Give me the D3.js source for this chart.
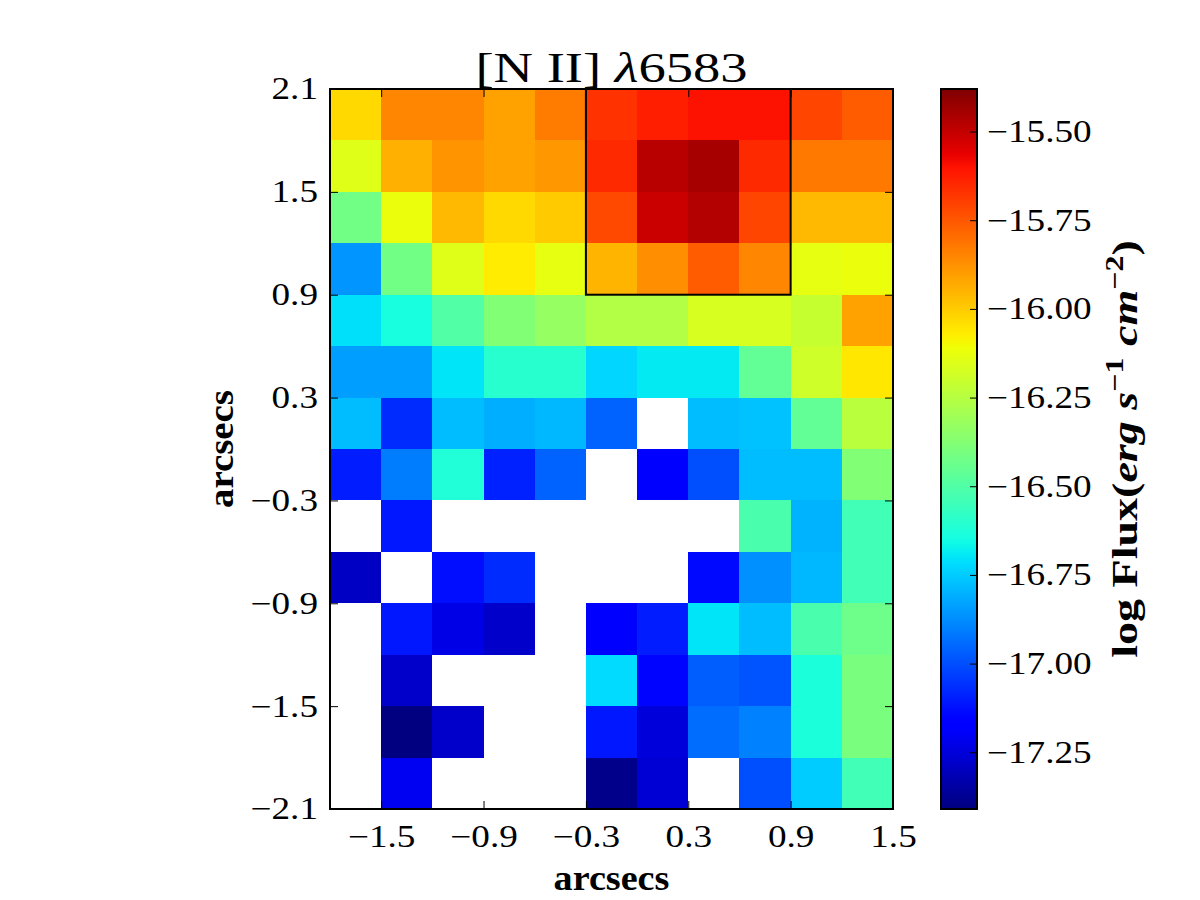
<!DOCTYPE html>
<html>
<head>
<meta charset="utf-8">
<script src="https://cdn.jsdelivr.net/npm/d3@7"></script>
<style>
  html, body { margin: 0; padding: 0; background: #fff; }
  svg { display: block; }
  text { font-family: "Liberation Serif", "DejaVu Serif", serif; fill: #000; }
</style>
</head>
<body>
<svg id="chart" width="1200" height="900"></svg>
<script>
// ---------------- data ----------------
const title = "[N II] ";
const titleLambda = "\u03BB";
const titleWave = "6583";
const xLabel = "arcsecs";
const yLabel = "arcsecs";

// column centres (arcsec) and row centres (arcsec, top to bottom)
const xCenters = [-1.65, -1.35, -1.05, -0.75, -0.45, -0.15, 0.15, 0.45, 0.75, 1.05, 1.35];
const yCenters = [1.95, 1.65, 1.35, 1.05, 0.75, 0.45, 0.15, -0.15, -0.45, -0.75, -1.05, -1.35, -1.65, -1.95];
const cellSize = 0.3;

// log flux per cell, rows top -> bottom, null = no data
const flux = [
  [-16.03, -15.85, -15.85, -15.91, -15.83, -15.67, -15.63, -15.60, -15.60, -15.71, -15.76],
  [-16.15, -15.94, -15.88, -15.91, -15.89, -15.65, -15.48, -15.45, -15.65, -15.82, -15.82],
  [-16.42, -16.12, -15.96, -16.03, -16.00, -15.72, -15.51, -15.47, -15.71, -15.96, -15.96],
  [-16.86, -16.42, -16.15, -16.07, -16.13, -15.95, -15.87, -15.76, -15.85, -16.13, -16.12],
  [-16.71, -16.64, -16.50, -16.38, -16.33, -16.26, -16.26, -16.17, -16.17, -16.21, -15.91],
  [-16.84, -16.84, -16.70, -16.60, -16.60, -16.73, -16.69, -16.69, -16.46, -16.19, -16.06],
  [-16.78, -17.07, -16.78, -16.81, -16.79, -16.96, null,   -16.78, -16.77, -16.46, -16.24],
  [-17.10, -16.91, -16.62, -17.09, -16.96, null,   -17.18, -17.00, -16.78, -16.78, -16.38],
  [null,   -17.11, null,   null,   null,   null,   null,   null,   -16.52, -16.80, -16.54],
  [-17.29, null,   -17.13, -17.07, null,   null,   null,   -17.14, -16.87, -16.79, -16.54],
  [null,   -17.11, -17.23, -17.28, null,   -17.17, -17.10, -16.70, -16.78, -16.52, -16.43],
  [null,   -17.28, null,   null,   null,   -16.72, -17.15, -16.97, -16.99, -16.63, -16.40],
  [null,   -17.41, -17.28, null,   null,   -17.11, -17.25, -16.94, -16.90, -16.63, -16.40],
  [null,   -17.21, null,   null,   null,   -17.39, -17.26, null,   -17.00, -16.75, -16.54]
];

const xDomain = [-1.8, 1.5];
const yDomain = [-2.1, 2.1];
const xTicks = [-1.5, -0.9, -0.3, 0.3, 0.9, 1.5];
const yTicks = [-2.1, -1.5, -0.9, -0.3, 0.3, 0.9, 1.5, 2.1];
const fluxRange = [-17.41, -15.38];
const cbarTicks = [-17.25, -17.00, -16.75, -16.50, -16.25, -16.00, -15.75, -15.50];

// highlighted box (arcsec)
const boxX = [-0.3, 0.9];
const boxY = [0.9, 2.1];

// ---------------- layout ----------------
const P = { left: 330, right: 893, top: 89, bottom: 809 };
const CB = { left: 941, right: 977, top: 89, bottom: 809 };
const TICK_FS = 31, TICK_SX = 1.2;

const svg = d3.select("#chart");

const x = d3.scaleLinear().domain(xDomain).range([P.left, P.right]);
const y = d3.scaleLinear().domain(yDomain).range([P.bottom, P.top]);

// jet colormap (matplotlib segment data)
const jr = d3.scaleLinear().domain([0, 0.35, 0.66, 0.89, 1]).range([0, 0, 1, 1, 0.5]).clamp(true);
const jg = d3.scaleLinear().domain([0, 0.125, 0.375, 0.64, 0.91, 1]).range([0, 0, 1, 1, 0, 0]).clamp(true);
const jb = d3.scaleLinear().domain([0, 0.11, 0.34, 0.65, 1]).range([0.5, 1, 1, 0, 0]).clamp(true);
const tScale = d3.scaleLinear().domain(fluxRange).range([0, 1]).clamp(true);
function jet(t) {
  return d3.rgb(Math.round(jr(t) * 255), Math.round(jg(t) * 255), Math.round(jb(t) * 255)).formatHex();
}
const color = v => jet(tScale(v));

// ---------------- cells ----------------
const cells = [];
flux.forEach((row, i) => row.forEach((v, j) => {
  if (v !== null) cells.push({ xc: xCenters[j], yc: yCenters[i], v });
}));

svg.append("g")
  .selectAll("rect")
  .data(cells)
  .join("rect")
  .attr("x", d => x(d.xc - cellSize / 2))
  .attr("y", d => y(d.yc + cellSize / 2))
  .attr("width", d => x(d.xc + cellSize / 2) - x(d.xc - cellSize / 2))
  .attr("height", d => y(d.yc - cellSize / 2) - y(d.yc + cellSize / 2))
  .attr("fill", d => color(d.v))
  .attr("shape-rendering", "crispEdges");

// highlighted box
svg.append("rect")
  .attr("x", x(boxX[0]))
  .attr("y", y(boxY[1]))
  .attr("width", x(boxX[1]) - x(boxX[0]))
  .attr("height", y(boxY[0]) - y(boxY[1]))
  .attr("fill", "none")
  .attr("stroke", "#000")
  .attr("stroke-width", 2);

// ---------------- axes ----------------
const fmt1 = d3.format(".1f");

function styleAxis(g, showLabels) {
  g.select(".domain").remove();
  g.selectAll(".tick line").attr("stroke", "#000").attr("stroke-width", 1);
  g.selectAll(".tick text")
    .attr("font-size", TICK_FS)
    .attr("font-family", "Liberation Serif")
    .attr("fill", "#000");
  if (!showLabels) g.selectAll(".tick text").remove();
}

// bottom
const gB = svg.append("g").attr("transform", `translate(0,${P.bottom})`)
  .call(d3.axisBottom(x).tickValues(xTicks).tickFormat(fmt1).tickSize(-8).tickPadding(16));
styleAxis(gB, true);
gB.selectAll(".tick text").attr("transform", `scale(${TICK_SX},1)`);
// top
const gT = svg.append("g").attr("transform", `translate(0,${P.top})`)
  .call(d3.axisTop(x).tickValues(xTicks).tickSize(-8));
styleAxis(gT, false);
// left
const gL = svg.append("g").attr("transform", `translate(${P.left},0)`)
  .call(d3.axisLeft(y).tickValues(yTicks).tickFormat(fmt1).tickSize(-8).tickPadding(12));
styleAxis(gL, true);
gL.selectAll(".tick text").attr("x", -12 / TICK_SX).attr("transform", `scale(${TICK_SX},1)`);
// right
const gR = svg.append("g").attr("transform", `translate(${P.right},0)`)
  .call(d3.axisRight(y).tickValues(yTicks).tickSize(-8));
styleAxis(gR, false);

// frame
svg.append("rect")
  .attr("x", P.left).attr("y", P.top)
  .attr("width", P.right - P.left).attr("height", P.bottom - P.top)
  .attr("fill", "none").attr("stroke", "#000").attr("stroke-width", 2);

// ---------------- title & labels ----------------
const tg = svg.append("g").attr("transform", `translate(${(P.left + P.right) / 2},82)`);
const tt = tg.append("text")
  .attr("text-anchor", "middle")
  .attr("font-size", 42)
  .attr("transform", "scale(1.3,1)");
tt.append("tspan").text(title);
tt.append("tspan").attr("font-style", "italic").text(titleLambda);
tt.append("tspan").text(titleWave);

svg.append("g").attr("transform", `translate(${(P.left + P.right) / 2},890)`)
  .append("text")
  .attr("text-anchor", "middle")
  .attr("font-size", 36)
  .attr("font-weight", "bold")
  .attr("transform", "scale(1.06,1)")
  .text(xLabel);

svg.append("g").attr("transform", `translate(233,${(P.top + P.bottom) / 2})`)
  .append("text")
  .attr("text-anchor", "middle")
  .attr("font-size", 36)
  .attr("font-weight", "bold")
  .attr("transform", "rotate(-90) scale(1.08,1)")
  .text(yLabel);

// ---------------- colorbar ----------------
const defs = svg.append("defs");
const grad = defs.append("linearGradient")
  .attr("id", "jetgrad")
  .attr("x1", 0).attr("y1", 1).attr("x2", 0).attr("y2", 0);
d3.range(0, 1.0001, 0.01).forEach(t => {
  grad.append("stop").attr("offset", t).attr("stop-color", jet(t));
});

const cy = d3.scaleLinear().domain(fluxRange).range([CB.bottom, CB.top]);

svg.append("rect")
  .attr("x", CB.left).attr("y", cy(fluxRange[1]))
  .attr("width", CB.right - CB.left)
  .attr("height", cy(fluxRange[0]) - cy(fluxRange[1]))
  .attr("fill", "url(#jetgrad)");

const gC = svg.append("g").attr("transform", `translate(${CB.right},0)`)
  .call(d3.axisRight(cy).tickValues(cbarTicks).tickFormat(d3.format(".2f")).tickSize(-7).tickPadding(10));
styleAxis(gC, true);
gC.selectAll(".tick text").attr("x", 10 / TICK_SX).attr("transform", `scale(${TICK_SX},1)`);

svg.append("rect")
  .attr("x", CB.left).attr("y", CB.top)
  .attr("width", CB.right - CB.left).attr("height", CB.bottom - CB.top)
  .attr("fill", "none").attr("stroke", "#000").attr("stroke-width", 2);

// colorbar label
const cl = svg.append("g").attr("transform", `translate(1137,${(CB.top + CB.bottom) / 2})`)
  .append("text")
  .attr("text-anchor", "middle")
  .attr("font-size", 36)
  .attr("font-weight", "bold")
  .attr("transform", "rotate(-90) scale(1.28,1)");
cl.append("tspan").text("log Flux(");
cl.append("tspan").attr("font-style", "italic").text("erg");
cl.append("tspan").text(" ");
cl.append("tspan").attr("font-style", "italic").text("s");
cl.append("tspan").attr("font-size", 25).attr("dy", -14).text("\u22121");
cl.append("tspan").attr("dy", 14).text(" ");
cl.append("tspan").attr("font-style", "italic").text("cm");
cl.append("tspan").attr("font-size", 25).attr("dy", -14).text("\u22122");
cl.append("tspan").attr("dy", 14).text(")");
</script>
</body>
</html>
